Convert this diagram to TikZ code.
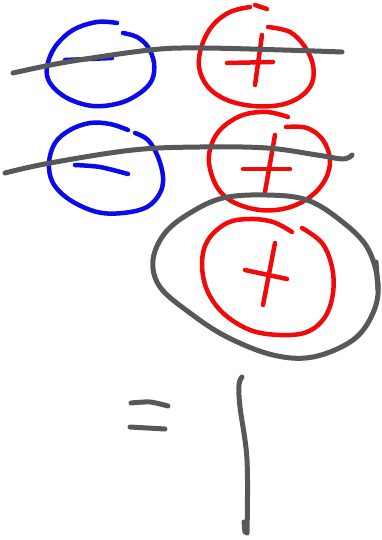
\documentclass[tikz,border=0pt]{standalone}
\begin{document}
\begin{tikzpicture}[x=1pt,y=-1pt,
  pen/.style={line width=4.5pt,line cap=round,line join=round},
  bluepen/.style={pen,draw={rgb,255:red,10;green,10;blue,235}},
  redpen/.style={pen,draw={rgb,255:red,240;green,10;blue,10}},
  graypen/.style={pen,line width=5pt,draw={rgb,255:red,88;green,88;blue,88}}]
\fill[white] (0,0) rectangle (382,540);
\useasboundingbox (0,0) rectangle (382,540);
% blue circle 1 with minus
\draw[bluepen] plot[smooth,tension=0.6] coordinates{(117,23) (97,22) (73,30) (55,47) (47,67) (50,83) (67,98) (93,106) (120,103) (140,93) (152,80) (154,63) (148,47) (137,37) (123,33)};
\draw[bluepen] (65,60) -- (112,58);
% red circle 1 with plus
\draw[redpen] plot[smooth,tension=0.6] coordinates{(268,27) (290,32) (305,47) (313,65) (312,83) (300,97) (280,105) (253,106) (227,100) (208,87) (199,67) (202,45) (213,25) (230,12) (250,7)};
\draw[redpen] (255,5) -- (267,9);
\draw[redpen] (262,35) -- (255,85);
\draw[redpen] (227,63) -- (273,62);
% gray line 1
\draw[graypen] plot[smooth,tension=0.6] coordinates{(13,73) (67,62) (150,50) (200,48) (283,50) (342,52)};
% blue circle 2 with minus
\draw[bluepen] plot[smooth,tension=0.6] coordinates{(128,130) (110,124) (90,123) (70,130) (55,143) (49,163) (53,183) (70,200) (97,212) (123,213) (147,207) (160,193) (163,177) (158,157) (148,140) (135,133)};
\draw[bluepen] plot[smooth] coordinates{(75,165) (100,167) (128,174)};
% red circle 2 with plus
\draw[redpen] plot[smooth,tension=0.6] coordinates{(288,117) (267,112) (243,115) (223,127) (212,143) (209,163) (217,187) (233,202) (260,210) (287,208) (310,197) (325,180) (330,160) (323,140) (307,128) (286,127)};
\draw[redpen] (275,135) -- (265,192);
\draw[redpen] (243,169) -- (290,169);
% gray line 2
\draw[graypen] plot[smooth,tension=0.6] coordinates{(5,173) (50,163) (133,150) (200,147) (267,148) (317,155) (343,159) (352,155)};
% gray ellipse
\draw[graypen] plot[smooth cycle,tension=0.6] coordinates{(267,195) (223,198) (190,213) (165,233) (153,260) (160,287) (190,313) (227,337) (273,355) (313,357) (353,340) (373,313) (378,283) (367,247) (340,220) (307,200)};
\draw[graypen] (376,262) -- (378,290);
% red circle 3 with plus
\draw[redpen] plot[smooth,tension=0.6] coordinates{(292,232) (273,222) (250,219) (227,223) (208,240) (202,263) (207,290) (223,313) (250,330) (280,335) (307,332) (325,317) (333,293) (332,267) (322,243) (302,228)};
\draw[redpen] (275,243) -- (263,305);
\draw[redpen] (245,270) -- (287,279);
% equals sign
\draw[graypen] plot[smooth] coordinates{(131,403) (150,402) (168,406)};
\draw[graypen] (130,427) -- (165,429);
% one
\draw[graypen] plot[smooth,tension=0.6] coordinates{(242,377) (239,385) (240,407) (247,460) (247,533)};
\draw[graypen] (244,522) -- (245,532);
\end{tikzpicture}
\end{document}
